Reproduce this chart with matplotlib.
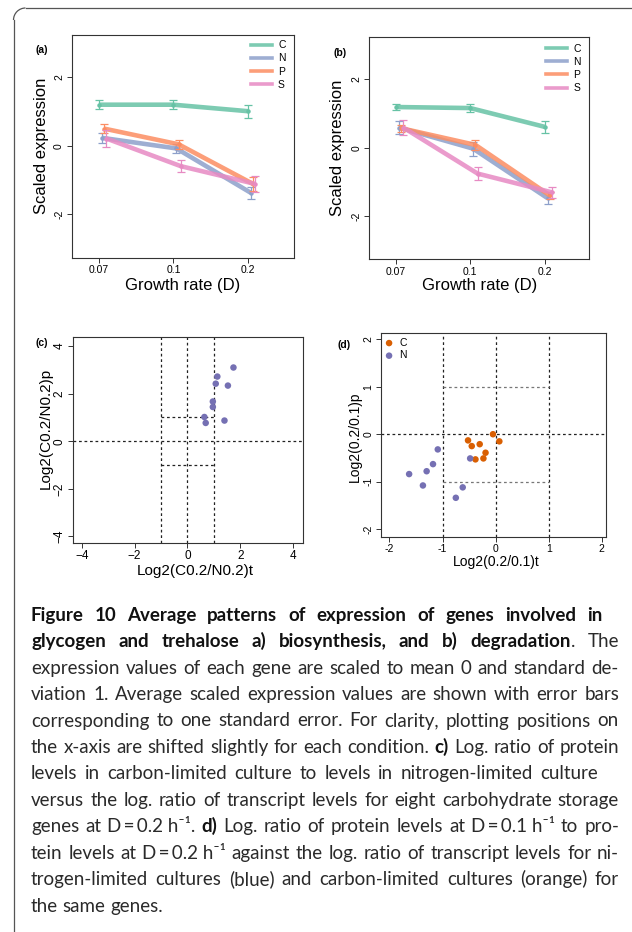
import matplotlib
matplotlib.use('Agg')
import matplotlib.pyplot as plt
from matplotlib.patches import Arc
from matplotlib.lines import Line2D

W, H = 632, 932

# --- data ---
rates = ['0.07', '0.1', '0.2']
conds = ['C', 'N', 'P', 'S']

# (a) biosynthesis: mean scaled expression and standard error
a_C = [1.20, 1.20, 1.01]
a_N = [0.23, -0.08, -1.38]
a_P = [0.50, 0.04, -1.12]
a_S = [0.21, -0.60, -1.12]
a_C_se = [0.14, 0.14, 0.19]
a_N_se = [0.14, 0.12, 0.17]
a_P_se = [0.14, 0.14, 0.20]
a_S_se = [0.24, 0.17, 0.23]

# (b) degradation
b_C = [1.19, 1.16, 0.61]
b_N = [0.59, -0.03, -1.48]
b_P = [0.57, 0.08, -1.40]
b_S = [0.59, -0.76, -1.31]
b_C_se = [0.09, 0.13, 0.17]
b_N_se = [0.20, 0.20, 0.17]
b_P_se = [0.10, 0.14, 0.10]
b_S_se = [0.23, 0.18, 0.16]

# (c) log2 C0.2/N0.2, transcript vs protein
c_t = [1.74, 1.13, 1.07, 1.53, 0.96, 0.96, 0.64, 0.69, 1.40]
c_p = [3.10, 2.72, 2.42, 2.34, 1.67, 1.44, 1.02, 0.77, 0.87]

# (d) log2 0.2/0.1, transcript vs protein
d_C_t = [-0.05, 0.07, -0.52, -0.45, -0.30, -0.19, -0.23, -0.38]
d_C_p = [0.00, -0.15, -0.13, -0.25, -0.21, -0.39, -0.51, -0.53]
d_N_t = [-1.09, -1.63, -1.30, -1.18, -1.37, -0.62, -0.75, -0.48]
d_N_p = [-0.32, -0.84, -0.78, -0.63, -1.08, -1.12, -1.34, -0.51]

caption_lines = [
    [("Figure 10 Average patterns of expression of genes involved in", True)],
    [("glycogen and trehalose a) biosynthesis, and b) degradation", True), (". The", False)],
    [("expression values of each gene are scaled to mean 0 and standard de-", False)],
    [("viation 1. Average scaled expression values are shown with error bars", False)],
    [("corresponding to one standard error. For clarity, plotting positions on", False)],
    [("the x-axis are shifted slightly for each condition. ", False), ("c)", True),
     (" Log. ratio of protein", False)],
    [("levels in carbon-limited culture to levels in nitrogen-limited culture", False)],
    [("versus the log. ratio of transcript levels for eight carbohydrate storage", False)],
    [("genes at D\u2009=\u20090.2\u00a0h\u207b\u00b9. ", False), ("d)", True),
     (" Log. ratio of protein levels at D\u2009=\u20090.1\u00a0h\u207b\u00b9 to pro-", False)],
    [("tein levels at D\u2009=\u20090.2\u00a0h\u207b\u00b9 against the log. ratio of transcript levels for ni-", False)],
    [("trogen-limited cultures (blue) and carbon-limited cultures (orange) for", False)],
    [("the same genes.", False)],
]
caption_right = [602, 619, 619, 619, 619, 619, 598, 619, 619, 619, 619, None]

# --- style ---
plt.rcParams['font.family'] = ['Liberation Sans', 'DejaVu Sans']
plt.rcParams['axes.unicode_minus'] = False
cond_colors = ['#66c2a5', '#8da0cb', '#fc8d62', '#e78ac3']
shifts = [0.0, 0.04, 0.07, 0.10]
purple = '#7570b3'
orange = '#d95f02'
frame_col = '#333333'

fig = plt.figure(figsize=(W / 100, H / 100), dpi=100)


def fx(px):
    return px / W


def fy(py):
    return 1 - py / H


def add_ax(left, top, right, bottom):
    ax = fig.add_axes([fx(left), fy(bottom), (right - left) / W, (bottom - top) / H])
    for s in ax.spines.values():
        s.set_linewidth(0.8)
        s.set_color(frame_col)
    ax.tick_params(direction='out', length=3.5, width=0.7, color=frame_col, pad=2)
    return ax


def rot_yticks(ax):
    plt.setp(ax.get_yticklabels(), rotation=90, va='center')


def expression_panel(ax, means, ses, xlim, ylim, legend_anchor):
    for k, (m, se) in enumerate(zip(means, ses)):
        xs = [i + 1 + shifts[k] for i in range(len(rates))]
        ax.plot(xs, m, color=cond_colors[k], lw=3.3, alpha=0.85,
                solid_capstyle='butt', label=conds[k], zorder=2 + k)
        ax.errorbar(xs, m, yerr=se, fmt='o', ms=2.2, color=cond_colors[k],
                    ecolor=cond_colors[k], elinewidth=0.9, capsize=2.6,
                    capthick=0.9, zorder=2 + k)
    ax.set_xlim(*xlim)
    ax.set_ylim(*ylim)
    ax.set_xticks([1, 2, 3])
    ax.set_xticklabels(rates, fontsize=7.5)
    ax.set_yticks([-2, 0, 2])
    ax.set_yticklabels(['-2', '0', '2'], fontsize=7.5)
    rot_yticks(ax)
    ax.set_ylabel('Scaled expression', fontsize=12)
    ax.set_xlabel('Growth rate (D)', fontsize=12)
    handles = [Line2D([], [], color=c, lw=2.6, alpha=0.85) for c in cond_colors]
    ax.legend(handles, conds, loc='upper right', bbox_to_anchor=legend_anchor,
              frameon=False, fontsize=7.5, handlelength=2.0, handletextpad=0.6,
              labelspacing=0.3, borderpad=0, borderaxespad=0)


# (a)
ax_a = add_ax(71.7, 34.7, 294, 257.7)
expression_panel(ax_a, [a_C, a_N, a_P, a_S], [a_C_se, a_N_se, a_P_se, a_S_se],
                 (0.634, 3.62), (-3.28, 3.25), (0.962, 0.975))
ax_a.yaxis.set_label_coords(-0.104, 0.5)
ax_a.xaxis.set_label_coords(0.5, -0.092)

# (b)
ax_b = add_ax(369, 36.7, 589.3, 259.3)
expression_panel(ax_b, [b_C, b_N, b_P, b_S], [b_C_se, b_N_se, b_P_se, b_S_se],
                 (0.64, 3.6), (-3.27, 3.25), (0.962, 0.968))
ax_b.yaxis.set_label_coords(-0.109, 0.5)
ax_b.xaxis.set_label_coords(0.5, -0.085)

dash = dict(color='#222222', lw=0.9, ls=(0, (2.2, 2.2)), zorder=1)

# (c)
ax_c = add_ax(73.3, 337.3, 302.7, 543.3)
ax_c.tick_params(axis='x', pad=1)
for v in [-1, 0, 1]:
    ax_c.axvline(v, **dash)
ax_c.axhline(0, **dash)
ax_c.plot([-1, 1], [1, 1], **dash)
ax_c.plot([-1, 1], [-1, -1], **dash)
ax_c.scatter(c_t, c_p, s=22, color=purple, edgecolors='none', zorder=3)
ax_c.set_xlim(-4.32, 4.36)
ax_c.set_ylim(-4.29, 4.37)
ct = [-4, -2, 0, 2, 4]
ax_c.set_xticks(ct)
ax_c.set_xticklabels([str(v).replace('-', '\u2212') for v in ct], fontsize=8.5)
ax_c.set_yticks(ct)
ax_c.set_yticklabels([str(v).replace('-', '\u2212') for v in ct], fontsize=8.5)
rot_yticks(ax_c)
ax_c.set_xlabel('Log2(C0.2/N0.2)t', fontsize=11)
ax_c.set_ylabel('Log2(C0.2/N0.2)p', fontsize=11)
ax_c.yaxis.set_label_coords(-0.09, 0.56)
ax_c.xaxis.set_label_coords(0.53, -0.1)

# (d)
ax_d = add_ax(381, 332.7, 606, 536.7)
for v in [-1, 0, 1]:
    ax_d.axvline(v, **dash)
ax_d.axhline(0, **dash)
gdash = dict(dash, color='#777777')
ax_d.plot([-1, 1], [1, 1], **gdash)
ax_d.plot([-1, 1], [-1, -1], **gdash)
ax_d.scatter(d_C_t, d_C_p, s=22, color=orange, edgecolors='none', zorder=3, label='C')
ax_d.scatter(d_N_t, d_N_p, s=22, color=purple, edgecolors='none', zorder=3, label='N')
ax_d.set_xlim(-2.16, 2.08)
ax_d.set_ylim(-2.16, 2.14)
dt = [-2, -1, 0, 1, 2]
ax_d.set_xticks(dt)
ax_d.set_xticklabels([str(v) for v in dt], fontsize=7.5)
ax_d.set_yticks(dt)
ax_d.set_yticklabels([str(v) for v in dt], fontsize=7.5)
rot_yticks(ax_d)
ax_d.set_xlabel('Log2(0.2/0.1)t', fontsize=10)
ax_d.set_ylabel('Log2(0.2/0.1)p', fontsize=10)
ax_d.yaxis.set_label_coords(-0.084, 0.49)
ax_d.xaxis.set_label_coords(0.511, -0.09)
ax_d.legend(loc='upper left', bbox_to_anchor=(0.022, 0.975), frameon=False,
            fontsize=7.5, handlelength=0.6, handletextpad=0.7, labelspacing=0.25,
            borderpad=0, borderaxespad=0)

# panel letters
for lab, px, py in [('(a)', 41.5, 50), ('(b)', 339.7, 52.7), ('(c)', 41.7, 343.3), ('(d)', 344, 344.7)]:
    fig.text(fx(px), fy(py), lab, fontsize=7.5, fontweight='bold', ha='center', va='center')

# frame: top rule with rounded corner and left rule
r = 12
fig.add_artist(Line2D([fx(13.5 + r), fx(631)], [fy(8), fy(8)], color='#555555', lw=0.9))
fig.add_artist(Line2D([fx(13.5), fx(13.5)], [fy(8 + r), fy(H)], color='#555555', lw=0.9))
fig.add_artist(Arc((fx(13.5 + r), fy(8 + r)), 2 * r / W, 2 * r / H, theta1=90, theta2=180,
                   transform=fig.transFigure, color='#555555', lw=0.9))

# caption, justified word by word
cap_fonts = ['Lato', 'DejaVu Sans']
cap_size = 13.5
cap_left = 31
cap_base = 620.7
cap_step = 26.45
min_gap = 3.0
renderer = fig.canvas.get_renderer()


def measure(items):
    return [[t.get_window_extent(renderer).width for t in arts] for arts in items]


for i, segs in enumerate(caption_lines):
    words = [[]]
    for txt, bold in segs:
        parts = txt.split(' ')
        for j, p in enumerate(parts):
            if j > 0:
                words.append([])
            if p:
                words[-1].append((p, bold))
    words = [w for w in words if w]
    y = fy(cap_base + i * cap_step)
    items = []
    for w in words:
        arts = []
        for p, bold in w:
            t = fig.text(0, y, p, fontsize=cap_size, family=cap_fonts, va='baseline', ha='left',
                         fontweight='bold' if bold else 'normal',
                         color='#111111' if bold else '#2a2a2a')
            arts.append(t)
        items.append(arts)
    widths = measure(items)
    total = sum(sum(ws) for ws in widths)
    right = caption_right[i]
    if right is not None:
        room = right - cap_left - min_gap * (len(items) - 1)
        if total > room:
            new_size = cap_size * room / total
            for arts in items:
                for t in arts:
                    t.set_fontsize(new_size)
            widths = measure(items)
            total = sum(sum(ws) for ws in widths)
        gap = (right - cap_left - total) / (len(items) - 1)
    else:
        gap = cap_size * 100 / 72 * 0.24
    x = cap_left
    for arts, ws in zip(items, widths):
        for t, wpx in zip(arts, ws):
            t.set_x(fx(x))
            x += wpx
        x += gap

fig.savefig('out.png', dpi=100)
